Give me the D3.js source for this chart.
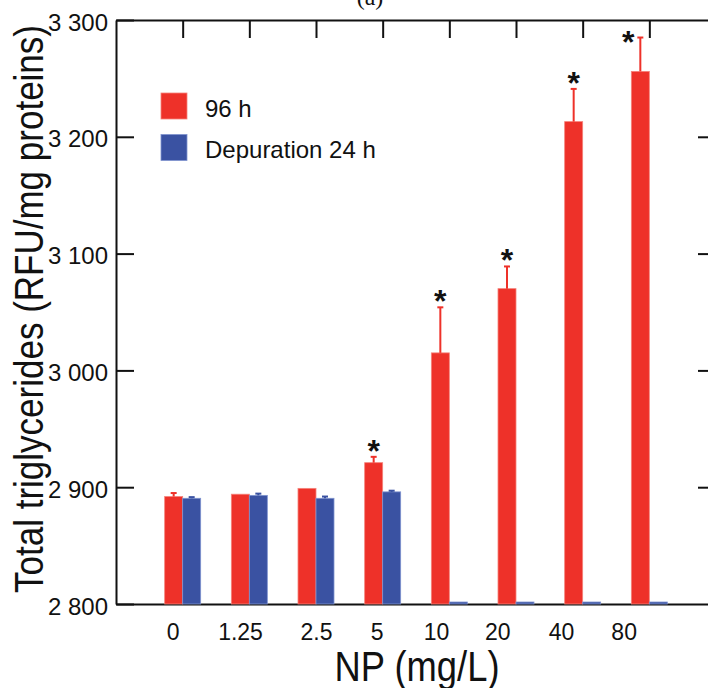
<!DOCTYPE html>
<html>
<head>
<meta charset="utf-8">
<script src="https://cdn.jsdelivr.net/npm/d3@7"></script>
<style>
  body { margin: 0; background: #fff; }
  svg text { font-family: "Liberation Sans", Arial, sans-serif; fill: #111; }
</style>
</head>
<body>
<div id="chart"></div>
<script>
// data
const categories = ["0", "1.25", "2.5", "5", "10", "20", "40", "80"];
const exposure96 = [2892, 2894, 2899, 2921, 3015, 3070, 3213, 3256];
const exposure96Err = [3, 0, 0, 5, 39, 19, 28, 29];
const depuration24 = [2890.5, 2893, 2890.5, 2896, 2800, 2800, 2800, 2800];
const depuration24Err = [1, 1.5, 1.5, 1, 0, 0, 0, 0];
const significant = [false, false, false, true, true, true, true, true];
const yTicks = [2800, 2900, 3000, 3100, 3200, 3300];
// where the category labels sit along the x axis (axis units)
const labelSpots = [0.85, 1.86, 3.0, 3.91, 4.8, 5.72, 6.675, 7.615];

const W = 708, H = 688;
const red = "#ee3129", redEdge = "#f5837b";
const blue = "#3a52a2", blueEdge = "#7f93cf";

const svg = d3.select("#chart").append("svg")
    .attr("width", W)
    .attr("height", H);

const x = d3.scaleLinear().domain([0, 9]).range([116, 716]);
const y = d3.scaleLinear().domain([2800, 3300]).range([604, 20]);
const barW = 18;

const fmt = d3.formatLocale({ decimal: ".", thousands: " ", grouping: [3], currency: ["", ""] }).format(",");

const rows = categories.map((c, i) => ({
    c, i,
    a: exposure96[i], ae: exposure96Err[i],
    b: depuration24[i], be: depuration24Err[i],
    sig: significant[i]
}));

const g = svg.append("g");

g.selectAll(".bar96")
  .data(rows)
  .enter().append("rect")
  .attr("class", "bar96")
  .attr("x", d => x(d.i + 1) - barW)
  .attr("y", d => y(d.a))
  .attr("width", barW)
  .attr("height", d => y(2800) - y(d.a))
  .attr("fill", red)
  .attr("stroke", redEdge)
  .attr("stroke-width", 0.8);

g.selectAll(".barDep")
  .data(rows)
  .enter().append("rect")
  .attr("class", "barDep")
  .attr("x", d => x(d.i + 1))
  .attr("y", d => Math.min(y(d.b), y(2800) - 2))
  .attr("width", barW)
  .attr("height", d => Math.max(y(2800) - y(d.b), 2))
  .attr("fill", blue)
  .attr("stroke", blueEdge)
  .attr("stroke-width", 0.8);

// error bars (upper half only)
function errBars(cls, val, err, off, col) {
    const e = rows.filter(d => d[err] > 0);
    g.selectAll("." + cls + "v").data(e).enter().append("line")
      .attr("x1", d => x(d.i + 1) + off).attr("x2", d => x(d.i + 1) + off)
      .attr("y1", d => y(d[val])).attr("y2", d => y(d[val] + d[err]))
      .attr("stroke", col).attr("stroke-width", 2);
    g.selectAll("." + cls + "c").data(e).enter().append("line")
      .attr("x1", d => x(d.i + 1) + off - 3).attr("x2", d => x(d.i + 1) + off + 3)
      .attr("y1", d => y(d[val] + d[err])).attr("y2", d => y(d[val] + d[err]))
      .attr("stroke", col).attr("stroke-width", 2);
}
errBars("e96", "a", "ae", -barW / 2, red);
errBars("eDep", "b", "be", barW / 2, blue);

// significance stars; the last one is pushed left, clear of the top tick
g.selectAll(".star")
  .data(rows.filter(d => d.sig))
  .enter().append("text")
  .attr("class", "star")
  .attr("x", d => x(d.i + 1) - barW / 2 - (y(d.a + d.ae) < 50 ? 12 : 0))
  .attr("y", d => y(d.a + d.ae) + (y(d.a + d.ae) < 50 ? 15 : 5))
  .attr("text-anchor", "middle")
  .style("font-size", "32px")
  .style("font-weight", "bold")
  .text("*");

// axes
const axisLeft = svg.append("g")
    .attr("transform", `translate(${x(0)},0)`)
    .call(d3.axisLeft(y).tickValues(yTicks).tickSizeInner(-18).tickSizeOuter(0).tickPadding(8).tickFormat(fmt));
axisLeft.selectAll("text")
    .style("font-size", "24px")
    .attr("dy", "0.42em")
    .attr("textLength", 60)
    .attr("lengthAdjust", "spacingAndGlyphs");

svg.append("g")
    .attr("transform", `translate(${x(9)},0)`)
    .call(d3.axisRight(y).tickValues(yTicks.slice(1, -1)).tickSizeInner(-18).tickSizeOuter(0).tickFormat(""));

svg.append("g")
    .attr("transform", `translate(0,${y(3300)})`)
    .call(d3.axisTop(x).tickValues(d3.range(1, 9)).tickSizeInner(-18).tickSizeOuter(0).tickFormat(""));

const axisBottom = svg.append("g")
    .attr("transform", `translate(0,${y(2800)})`)
    .call(d3.axisBottom(x).tickValues(labelSpots).tickSize(0).tickPadding(20).tickFormat((d, i) => categories[i]));
axisBottom.selectAll("text").style("font-size", "23px");

svg.selectAll(".domain").attr("stroke", "#111").attr("stroke-width", 2);
svg.selectAll(".tick line").attr("stroke", "#111").attr("stroke-width", 2);

// blue zero bars sit on top of the bottom axis line
g.raise();

// axis titles
svg.append("text")
    .attr("x", 417)
    .attr("y", 681)
    .attr("text-anchor", "middle")
    .attr("textLength", 165)
    .attr("lengthAdjust", "spacingAndGlyphs")
    .style("font-size", "42px")
    .text("NP (mg/L)");

svg.append("text")
    .attr("transform", "translate(43,593) rotate(-90)")
    .attr("x", 0)
    .attr("y", 0)
    .attr("textLength", 568)
    .attr("lengthAdjust", "spacingAndGlyphs")
    .style("font-size", "40px")
    .text("Total triglycerides (RFU/mg proteins)");

// panel letter, cut at the top edge
svg.append("text")
    .attr("x", 370)
    .attr("y", 5)
    .attr("text-anchor", "middle")
    .style("font-family", "Liberation Serif, serif")
    .style("font-size", "24px")
    .text("(a)");

// legend
const legend = svg.append("g").attr("transform", "translate(161,93)");
[["96 h", red, redEdge], ["Depuration 24 h", blue, blueEdge]].forEach((it, k) => {
    legend.append("rect")
        .attr("x", 0).attr("y", k * 41.5)
        .attr("width", 26).attr("height", 26)
        .attr("fill", it[1]).attr("stroke", it[2]).attr("stroke-width", 0.8);
    legend.append("text")
        .attr("x", 44).attr("y", k * 41 + 24)
        .style("font-size", "24px")
        .text(it[0]);
});
</script>
</body>
</html>
